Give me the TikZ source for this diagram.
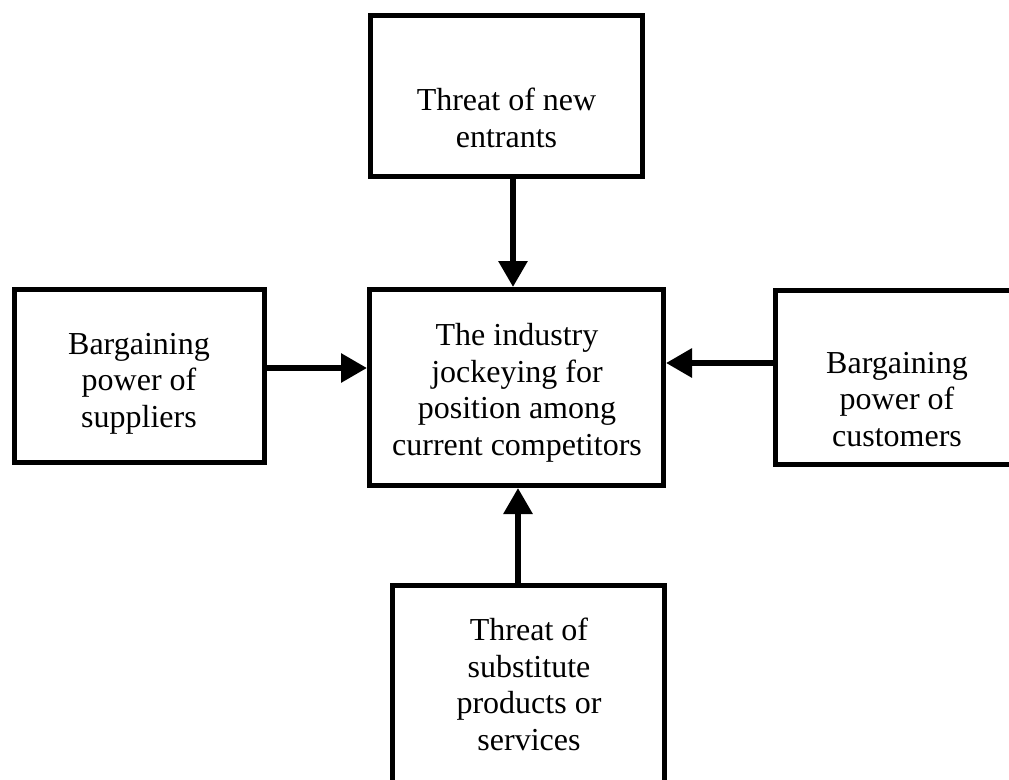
\documentclass[tikz,border=0pt]{standalone}
\usepackage{fontspec}
\setmainfont{Liberation Serif}
\usetikzlibrary{arrows.meta}
\begin{document}
\begin{tikzpicture}[x=1pt,y=-1pt,
  boxnode/.style={draw=black, line width=5pt, rectangle, inner sep=0pt},
  txt/.style={align=center, inner sep=0pt, anchor=base,
    font=\fontsize{32}{36.5}\selectfont},
  arr/.style={line width=6pt, -{Triangle[length=26pt,width=28pt]}}]
\useasboundingbox (0,0) rectangle (1009,779);
\clip (0,0) rectangle (1009,779);
% boxes
\node[boxnode, minimum width=272pt, minimum height=161pt] (top) at (506.5,96) {};
\node[boxnode, minimum width=250pt, minimum height=173pt] (left) at (139.5,376) {};
\node[boxnode, minimum width=294pt, minimum height=196pt] (center) at (516.5,387.5) {};
\node[boxnode, minimum width=243pt, minimum height=174pt] (right) at (897,377.5) {};
\node[boxnode, minimum width=272pt, minimum height=202pt] (bottom) at (528.5,686.5) {};
% texts (anchored at the baseline of the last line)
\node[txt] (toptext) at (506.5,147) {Threat of new\\entrants};
\node[txt] (lefttext) at (139,427) {Bargaining\\power of\\suppliers};
\node[txt] (centertext) at (517,455) {The industry\\jockeying for\\position among\\current competitors};
\node[txt] (righttext) at (897,446) {Bargaining\\power of\\customers};
\node[txt] (bottomtext) at (529,750) {Threat of\\substitute\\products or\\services};
% connector guides
\coordinate (xa) at (513,0);
\coordinate (xb) at (518,0);
\coordinate (ya) at (0,368);
\coordinate (yb) at (0,363);
% connectors
\draw[arr] (top.south -| xa) -- (center.north -| xa);
\draw[arr] (bottom.north -| xb) -- (center.south -| xb);
\draw[arr] (left.east |- ya) -- (center.west |- ya);
\draw[arr] (right.west |- yb) -- (center.east |- yb);
\end{tikzpicture}
\end{document}
